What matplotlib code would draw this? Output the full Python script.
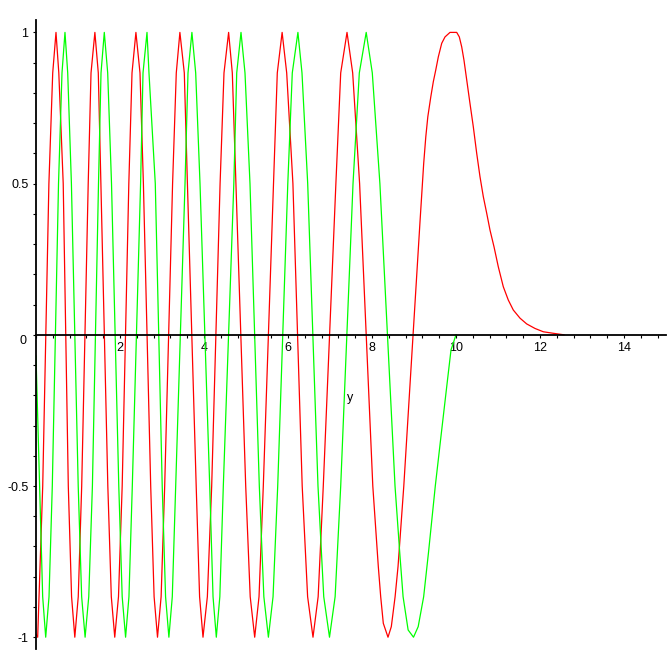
import matplotlib.pyplot as plt
from matplotlib.ticker import MultipleLocator

# curve points (extrema, +-0.866 and +-0.5 crossings, hump + tail)
red_x = [0.0, 0.04, 0.160, 0.307, 0.398, 0.476, 0.543, 0.648,
         0.769, 0.847, 0.924, 1.006, 1.088, 1.243, 1.310, 1.402, 1.483, 1.545,
         1.710, 1.793, 1.875, 1.964, 2.052, 2.210, 2.286, 2.379, 2.476, 2.557,
         2.731, 2.812, 2.893, 2.979, 3.064, 3.252, 3.340, 3.426, 3.531, 3.605,
         3.814, 3.895, 3.976, 4.080, 4.183, 4.383, 4.476, 4.586, 4.674, 4.760,
         4.993, 5.100, 5.207, 5.310, 5.412, 5.655, 5.745, 5.860, 5.969, 6.117,
         6.338, 6.467, 6.595, 6.718, 6.840, 7.140, 7.255, 7.405, 7.540, 7.705,
         8.019, 8.150, 8.207, 8.269, 8.381, 8.460, 8.550, 8.620, 8.757,
         9.143, 9.186, 9.231, 9.281, 9.329, 9.400, 9.460, 9.517, 9.579,
         9.660, 9.738, 9.857, 10.017, 10.079, 10.136, 10.190, 10.255, 10.333,
         10.412, 10.493, 10.571, 10.650, 10.731, 10.810, 10.905, 11.007,
         11.126, 11.245, 11.364, 11.524, 11.683, 11.881, 12.079, 12.317, 12.571]
red_y = [-0.99, -1, -0.5, 0.5, 0.866, 1, 0.866, 0.5,
         -0.5, -0.866, -1, -0.866, -0.5, 0.5, 0.866, 1, 0.866, 0.5,
         -0.5, -0.866, -1, -0.866, -0.5, 0.5, 0.866, 1, 0.866, 0.5,
         -0.5, -0.866, -1, -0.866, -0.5, 0.5, 0.866, 1, 0.866, 0.5,
         -0.5, -0.866, -1, -0.866, -0.5, 0.5, 0.866, 1, 0.866, 0.5,
         -0.5, -0.866, -1, -0.866, -0.5, 0.5, 0.866, 1, 0.866, 0.5,
         -0.5, -0.866, -1, -0.866, -0.5, 0.5, 0.866, 1, 0.866, 0.5,
         -0.5, -0.766, -0.866, -0.954, -1, -0.965, -0.866, -0.766, -0.5,
         0.374, 0.468, 0.567, 0.655, 0.721, 0.787, 0.837, 0.875, 0.919,
         0.964, 0.985, 1.0, 1.0, 0.985, 0.952, 0.908, 0.843, 0.765,
         0.688, 0.600, 0.523, 0.457, 0.402, 0.346, 0.291, 0.225,
         0.159, 0.115, 0.082, 0.055, 0.036, 0.021, 0.010, 0.005, 0.0]

green_x = [0.0, 0.086, 0.159, 0.231, 0.310, 0.388, 0.536, 0.619, 0.690, 0.755, 0.843,
           1.005, 1.087, 1.169, 1.256, 1.343, 1.488, 1.548, 1.626, 1.707, 1.798,
           1.971, 2.052, 2.133, 2.213, 2.293, 2.490, 2.548, 2.643, 2.690, 2.840,
           3.005, 3.085, 3.164, 3.245, 3.326, 3.548, 3.619, 3.712, 3.802, 3.905,
           4.136, 4.215, 4.293, 4.377, 4.460, 4.710, 4.779, 4.881, 4.976, 5.095,
           5.317, 5.425, 5.533, 5.644, 5.755, 5.995, 6.102, 6.236, 6.333, 6.469,
           6.714, 6.851, 6.988, 7.122, 7.255, 7.548, 7.698, 7.862, 8.007, 8.188,
           8.548, 8.660, 8.740, 8.860, 8.988, 9.100, 9.230, 9.345, 9.507,
           9.647, 9.797, 9.881, 10.0]
green_y = [-0.07, -0.5, -0.866, -1, -0.866, -0.5, 0.5, 0.866, 1, 0.866, 0.5,
           -0.5, -0.866, -1, -0.866, -0.5, 0.5, 0.866, 1, 0.866, 0.5,
           -0.5, -0.866, -1, -0.866, -0.5, 0.5, 0.866, 1, 0.866, 0.5,
           -0.5, -0.866, -1, -0.866, -0.5, 0.5, 0.866, 1, 0.866, 0.5,
           -0.5, -0.866, -1, -0.866, -0.5, 0.5, 0.866, 1, 0.866, 0.5,
           -0.5, -0.866, -1, -0.866, -0.5, 0.5, 0.866, 1, 0.866, 0.5,
           -0.5, -0.866, -1, -0.866, -0.5, 0.5, 0.866, 1, 0.866, 0.5,
           -0.5, -0.72, -0.866, -0.976, -1, -0.965, -0.866, -0.72, -0.5,
           -0.33, -0.15, -0.05, 0.0]

x_ticks = [2, 4, 6, 8, 10, 12, 14]
y_ticks = [-1, -0.5, 0.5, 1]
y_tick_labels = ["-1", "-0.5", "0.5", "1"]

plt.rcParams['font.family'] = ['Liberation Sans', 'DejaVu Sans']
plt.rcParams['font.size'] = 9

fig = plt.figure(figsize=(6.69, 6.69), dpi=100)
ax = fig.add_axes([36/669, 20/669, 630/669, 629/669])

ax.plot(red_x, red_y, color="#ff0000", lw=0.9)
ax.plot(green_x, green_y, color="#00ff00", lw=0.9)

ax.set_xlim(0, 15)
ax.set_ylim(-1.039, 1.041)

ax.spines['top'].set_visible(False)
ax.spines['right'].set_visible(False)
ax.spines['bottom'].set_position(('data', 0))
for s in ['left', 'bottom']:
    ax.spines[s].set_linewidth(1.3)
    ax.spines[s].set_color('black')

ax.set_xticks(x_ticks)
ax.set_xticklabels([str(t) for t in x_ticks])
ax.xaxis.set_minor_locator(MultipleLocator(0.4))
ax.set_yticks(y_ticks)
ax.set_yticklabels(y_tick_labels)
ax.yaxis.set_minor_locator(MultipleLocator(0.1))
ax.tick_params(which='both', direction='out', length=2.4, width=0.8, pad=3, labelsize=9)

ax.text(-0.3, -0.02, "0", ha='center', va='center', fontsize=9, clip_on=False)
ax.text(7.48, -0.209, "y", ha='center', va='center', fontsize=9)

fig.savefig("out.png", dpi=100)
